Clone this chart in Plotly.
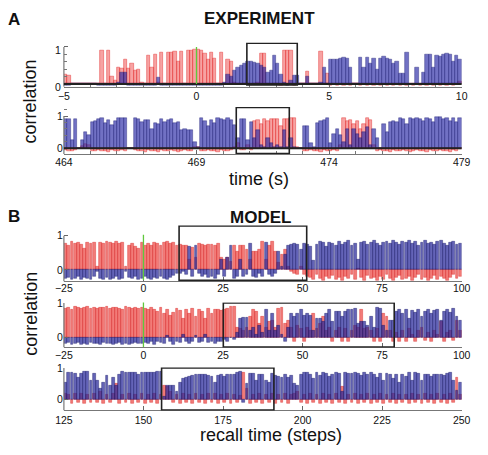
import plotly.graph_objects as go

W, H = 488, 455
FONT = "Liberation Sans, Arial, Helvetica, sans-serif"

# ---------------- data ----------------
EXP_BIN = 0.125          # s per bin (experiment)
a1_t0 = -5.0
a2_t0 = 464.0

a1_red = [0.25, 0.22, 0, 0, 0, 0, 0, 0, 0, 0,
          0, 0.9, 0, 0.9, 0.2, 0.1, 0.45, 0.42, 0.65, 0.42,
          0.55, 0.35, 0.38, 0.05, 0, 0.78, 0.45, 0.8, 0.05, 0.86,
          0, 0.86, 0.86, 0.87, 0.6, 0.88, 0, 0.9, 0.9, 0.92,
          0.92, 0.9, 0.82, 0.65, 0.86, 0.7, 0, 0.85, 0, 0.65,
          0.6, 0.05, 0.02, -0.02, 0.02, 0, -0.02, 0.02, 0.05, 0.83,
          0.83, 0, -0.02, 0.02, 0, -0.03, 0.9, 0.9, 0.9, -0.03,
          -0.02, 0, 0, 0.33, 0, 0, 0, 0.88, 0, 0.28,
          -0.03, -0.02, -0.03, -0.02, -0.03, -0.02, -0.03, 0, 0, -0.03,
          -0.02, -0.03, -0.02, -0.03, -0.02, -0.03, -0.02, -0.03, -0.02, -0.03,
          -0.02, -0.03, -0.02, -0.03, -0.02, -0.03, -0.02, -0.03, -0.02, -0.03,
          -0.02, -0.03, -0.02, -0.03, -0.02, -0.03, -0.02, -0.03, -0.02, 0.06]
a1_blue = [-0.03, -0.03, 0, 0, 0, 0, 0, 0, 0, 0,
           -0.03, -0.03, -0.04, -0.03, -0.05, -0.03, 0.05, 0.32, 0.3, -0.04,
           -0.03, -0.05, -0.04, -0.03, -0.05, -0.04, -0.03, -0.05, 0.17, -0.04,
           -0.05, -0.03, -0.04, -0.05, -0.03, -0.04, -0.03, -0.05, -0.04, -0.03,
           -0.04, -0.05, -0.03, -0.04, -0.05, -0.03, -0.04, -0.03, 0.05, 0.25,
           0.2, 0.35, 0.45, 0.5, 0.55, 0.6, 0.6, 0.58, 0.55, 0.5,
           0.45, 0.32, 0.35, 0.76, 0.55, 0.25, 0.05, -0.03, 0.1, 0.22,
           0.22, 0, 0, 0.2, 0, 0, 0, 0.05, 0.45, 0,
           0.66, 0.67, 0.67, 0.7, 0.72, 0.68, 0.45, 0, 0, 0.72,
           0.45, 0.72, 0.55, 0.68, 0.4, 0.7, 0.75, 0.7, 0.65, 0.55,
           0.6, 0.28, 0.28, 0.85, -0.02, -0.02, 0.45, -0.02, 0.3, 0.8,
           0.8, 0.45, 0.78, 0.75, 0.8, 0.82, 0.8, 0.6, 0.78, 0.65]

a2_red = [-0.05, -0.08, -0.1, -0.06, 0.0, 0.08, 0.12, 0.1, -0.08, -0.1,
          -0.06, -0.1, -0.08, -0.12, -0.06, -0.1, -0.08, -0.05, -0.1, 0.0,
          0.0, -0.06, -0.1, -0.08, -0.12, -0.06, -0.1, -0.08, -0.12, -0.06,
          -0.1, -0.08, -0.06, -0.1, -0.12, -0.08, -0.06, -0.1, -0.08, 0.05,
          0.03, -0.08, -0.1, -0.06, -0.1, -0.08, -0.12, -0.06, -0.1, -0.08,
          -0.06, 0.05, 0.15, -0.05, -0.06, 0.1, -0.05, 0.85, 0.88, 0.75,
          0.92, 0.85, 0.92, 0.92, 0.92, 0.7, 0.9, 0.92, 0.95, 0.95,
          0.05, 0.0, -0.08, -0.1, -0.06, -0.1, -0.08, -0.12, -0.06, -0.1,
          -0.08, -0.06, -0.1, 0.1, 0.95, 0.85, 0.88, 0.75, 0.85, 0.6,
          0.75, 0.95, 0.88, 0.1, -0.08, -0.06, -0.1, -0.08, -0.12, -0.06,
          -0.1, -0.08, -0.06, -0.1, -0.12, -0.08, -0.06, -0.1, -0.08, -0.12,
          -0.06, -0.1, -0.08, -0.06, -0.1, -0.08, -0.12, -0.06, -0.1, -0.04]
a2_blue = [0.92, 0.92, 0.25, 0.92, 0, 0.25, 0.5, 0.42, 0.82, 0.85,
           0.9, 0.95, 0.78, 0.88, 0.72, 0.85, 0.95, 0.95, 0.95, 0,
           0, 0.95, 0.9, 0.82, 0.88, 0.88, 0.6, 0.78, 0.75, 0.9,
           0.82, 0.86, 0.9, 0.78, 0.82, 0.55, 0.6, 0.55, 0.55, 0.2,
           0.05, 0.95, 0.85, 0.7, 0.88, 0.78, 0.95, 0.9, 0.88, 0.95,
           0.88, 0.72, 0.3, 0.92, 0.92, 0.25, 0.8, 0.3, 0.55, 0.1,
           0.05, 0.3, 0.15, 0.05, 0.1, 0.05, 0.55, 0.05, 0.3, 0.05,
           0, 0, 0.68, 0.68, 0.15, 0.05, 0.79, 0.85, 0.88, 0.95,
           0.15, 0.45, 0.6, 0.4, 0.2, 0.58, 0.1, 0.58, 0.45, 0.3,
           0.5, 0.65, 0.1, 0.6, 0.3, 0, 0.75, 0.5, 0.82, 0.85,
           0.8, 0.95, 0.9, 0.75, 0.95, 0.9, 0.95, 0.9, 0.85, 0.95,
           0.92, 0.8, 0.97, 0.97, 0.9, 0.95, 0.85, 0.95, 0.8, 0.95]

MODEL_STEP = 1
b1_s0 = -25
b2_s0 = -25
b3_s0 = 125

b1_red = [0.78, 0.72, 0.82, 0.76, 0.8, 0.74, 0.62, 0.8, 0.78, 0.8,
          0.1,
          0.8, 0.78, 0.82, 0.8, 0.78, 0.82, 0.76, 0.8,
          0.1,
          0.72, 0.78, 0.68, 0.62, 0.8,
          0.7, 0.78, 0.72, 0.8, 0.78, 0.72, 0.8, 0.82, 0.76, 0.8, 0.7,
          0.75, 0.72, 0.7, 0.3, 0.65, 0.35, 0.78, 0.75, 0.72, 0.74,
          0.75, 0.72, 0.78, 0.35, 0.3, 0.35, 0.25, 0.72, 0.55, 0.7,
          0.7, 0.6, 0.3, 0.55, 0.55, 0.6, 0.82, 0.3, 0.72, 0.82,
          0.55, 0.2, 0.45, 0.6, 0.1, -0.05, -0.1, -0.15, 0.1, -0.15, -0.2,
          -0.22, -0.28, -0.15, -0.25, -0.3, -0.2, -0.26, -0.18, -0.28, -0.24,
          -0.3, -0.2, -0.25, -0.15, -0.28, 0.05, -0.22, -0.3, -0.18, -0.26,
          -0.24, -0.3, -0.2, -0.28, -0.15, -0.25, -0.3, -0.22, -0.18, -0.28,
          -0.26, -0.2, -0.3, -0.24, -0.15, -0.28, -0.22, -0.3, -0.25, -0.18,
          -0.28, -0.2, -0.26, -0.3, -0.22, -0.15, -0.25, -0.2]
b1_blue = [-0.25, -0.22, -0.28, -0.25, -0.2, -0.27, -0.22, -0.25, -0.28, -0.2,
           -0.05,
           -0.25, -0.28, -0.22, -0.27, -0.25, -0.2, -0.28, -0.25,
           -0.05,
           -0.22, -0.26, -0.2, -0.28, -0.25,
           -0.2, -0.25, -0.28, -0.22, -0.26, -0.2, -0.25, -0.28, -0.22, -0.18, -0.1,
           -0.1, -0.05, -0.15, 0.69, -0.2, 0.72, -0.12, -0.2, -0.15, -0.22,
           -0.2, -0.25, -0.15, 0.3, -0.2, 0.35, 0.7, -0.25, -0.2, 0.3,
           -0.2, -0.15, 0.78, -0.2, -0.22, -0.1, -0.2, 0.8, -0.15, -0.2,
           -0.1, 0.55, 0.1, 0.45, 0.7, 0.75, 0.78, 0.75, 0.6, 0.78, 0.75,
           0.68, 0.28, 0.75, 0.82, 0.8, 0.68, 0.8, 0.78, 0.72, 0.82,
           0.75, 0.8, 0.85, 0.7, 0.78, 0.3, 0.8, 0.82, 0.75, 0.8,
           0.85, 0.78, 0.72, 0.8, 0.82, 0.78, 0.85, 0.8, 0.75, 0.82,
           0.8, 0.85, 0.78, 0.82, 0.72, 0.8, 0.85, 0.78, 0.8, 0.75,
           0.82, 0.85, 0.78, 0.7, 0.8, 0.82, 0.75, 0.78]

b2_red = [0.85, 0.88, 0.82, 0.9, 0.86, 0.84, 0.88, 0.9, 0.85, 0.87,
          0.83, 0.88, 0.86, 0.9, 0.84, 0.87, 0.88, 0.85, 0.82, 0.9,
          0.86, 0.84, 0.88, 0.85, 0.87,
          0.85, 0.82, 0.88, 0.8, 0.75, 0.86, 0.7, 0.82, 0.65, 0.72,
          0.85, 0.78, 0.55, 0.8, 0.68, 0.85, 0.6, 0.82, 0.75, 0.55,
          0.85, 0.7, 0.82, 0.8, 0.78,
          0.8, 0.85, 0.9, 0.9, 0.3, 0.25, 0.2, 0.3, 0.6, 0.82,
          0.75, 0.4, 0.6, 0.3, 0.45, 0.5, 0.3, 0.85, 0.88, 0.4,
          0.5, 0.3, -0.1, 0.35, 0.25, -0.12, 0.3, 0.2, 0.7, 0.25,
          0.4, 0.6, 0.2, 0.3, -0.1, 0.2, 0.3, -0.1, 0.25, -0.12,
          0.2, 0.35, 0.3, 0.8, 0.25, 0.3, 0.2, -0.1, 0.25, -0.12,
          0.7, 0.6, 0.2, -0.1,
          0.15, -0.1, 0.2, -0.12, 0.25, 0.1, -0.1, 0.2, 0.3, -0.08,
          0.15, -0.12, 0.2, 0.1, 0.45, -0.1, 0.15, 0.2, -0.08, 0.5, 0.2]
b2_blue = [-0.18, -0.15, -0.2, -0.17, -0.15, -0.19, -0.16, -0.2, -0.15, -0.18,
           -0.17, -0.2, -0.15, -0.18, -0.16, -0.2, -0.17, -0.15, -0.19, -0.18,
           -0.2, -0.16, -0.15, -0.18, -0.17,
           -0.15, -0.18, -0.12, -0.2, -0.1, -0.15, -0.18, 0.05, -0.12, -0.2,
           -0.1, -0.15, 0.1, -0.12, -0.18, -0.1, 0.05, -0.15, -0.12, 0.1,
           -0.15, -0.1, -0.18, -0.12, -0.1,
           -0.05, -0.1, 0.0, -0.05, 0.15, 0.55, 0.58, 0.58, 0.2, 0.3,
           0.1, 0.35, 0.15, 0.8, 0.2, 0.7, 0.2, 0.35, 0.1, -0.1,
           0.3, 0.7, 0.6, 0.7, 0.8, 0.65, 0.7, 0.65, 0.2, 0.55,
           0.55, 0.45, 0.7, 0.8, 0.45, 0.75, 0.75, 0.6, 0.75, 0.8,
           0.8, 0.85, 0.4, 0.45, 0.45, 0.35, 0.6, 0.3, 0.88, 0.85,
           0.35, 0.2, 0.5, 0.5,
           0.75, 0.8, 0.7, 0.82, 0.55, 0.78, 0.72, 0.8, 0.6, 0.75,
           0.82, 0.7, 0.78, 0.8, 0.5, 0.75, 0.82, 0.72, 0.85, 0.6, 0.5]

b3_red = [0.2, 0.15, -0.12, 0.18, -0.1, 0.2, -0.12, 0.15, -0.1, 0.2,
          -0.1, 0.25, -0.12, 0.15, -0.1, 0.18, 0.5, -0.12, 0.15, -0.1,
          0.2, -0.12, 0.15, -0.1, 0.18, -0.12, 0.15, -0.1, 0.2, -0.12, 0.15,
          0.45, 0.4, 0.25, -0.1, 0.15, -0.12, 0.18, -0.1, 0.15, -0.12,
          0.2, -0.1, 0.15, -0.12, 0.18, -0.1, 0.2, -0.12, 0.15, -0.1,
          0.18, -0.12, 0.15, -0.1, 0.12, 0.85,
          0.35, -0.12, 0.15, -0.1, 0.2, -0.12, 0.15, -0.1, 0.18, -0.12,
          0.15, -0.1, 0.2, -0.12, 0.15, 0.2, 0.25, -0.1, 0.15, -0.12,
          0.2, -0.1, 0.15, -0.12, 0.18, -0.1, 0.15, -0.12, 0.2, -0.1,
          0.4, -0.12, 0.15, -0.1, 0.18, -0.12, 0.15, -0.1, 0.2, -0.12,
          0.15, -0.1, 0.18, -0.12, 0.15, -0.1, 0.2, -0.12, 0.15, -0.1,
          0.15, -0.12, 0.2, -0.1, 0.15, -0.12, 0.18, -0.1, 0.15, -0.12,
          0.2, -0.1, 0.15, -0.12, 0.18, -0.1, 0.7, 0.15]
b3_blue = [0.53, 0.85, 0.85, 0.82, 0.7, 0.82, 0.88, 0.88, 0.6, 0.82,
           0.6, 0.35, 0.55, 0.75, 0.45, 0.7, 0.45, 0.8, 0.88, 0.85,
           0.85, 0.85, 0.85, 0.8, 0.85, 0.85, 0.85, 0.85, 0.85, 0.88, 0.88,
           0.1, 0.45, 0.45, 0.45, 0.25, 0.55, 0.65, 0.7, 0.72, 0.75,
           0.78, 0.8, 0.8, 0.78, 0.75, 0.72, 0.55, 0.75, 0.78, 0.72,
           0.8, 0.78, 0.8, 0.85, 0.88, -0.1,
           0.5, 0.82, 0.82, 0.6, 0.8, 0.78, 0.6, 0.55, 0.82, 0.75,
           0.72, 0.7, 0.8, 0.7, 0.75, 0.5, 0.45, 0.8, 0.85, 0.85,
           0.8, 0.65, 0.85, 0.75, 0.85, 0.82, 0.72, 0.8, 0.85, 0.82,
           0.25, 0.85, 0.82, 0.82, 0.85, 0.82, 0.75, 0.85, 0.8, 0.85,
           0.78, 0.7, 0.82, 0.6, 0.82, 0.8, 0.65, 0.8, 0.55, 0.78,
           0.72, 0.85, 0.6, 0.85, 0.82, 0.6, 0.78, 0.78, 0.72, 0.8,
           0.78, 0.8, 0.75, 0.82, 0.85, 0.6, 0.3, 0.55]

a1_xticks = [-5, 0, 5, 10]
a1_xlabels = ["\u22125", "0", "5", "10"]
a2_xticks = [464, 469, 474, 479]
a2_xlabels = ["464", "469", "474", "479"]
b_xticks = [-25, 0, 25, 50, 75, 100]
b_xlabels = ["\u221225", "0", "25", "50", "75", "100"]
b3_xticks = [125, 150, 175, 200, 225, 250]
b3_xlabels = ["125", "150", "175", "200", "225", "250"]
y_ticks = [0, 1]
y_labels = ["0", "1"]

# highlighted windows (x0, x1, y0, y1) in data units
a1_box = (1.9, 3.8, -0.03, 1.1)
a2_box = (470.5, 472.5, -0.17, 1.27)
b1_box = (11.2, 51.3, -0.31, 1.29)
b2_box = (25.1, 78.8, -0.27, 1.0)
b3_box = (155.7, 191.0, -0.33, 1.0)
onset = 0  # recall cue (green line)

# ---------------- layout geometry (pixels) ----------------
X_LEFT, X_RIGHT = 57, 470
EXP_STYLE = dict(red="rgba(240,70,70,0.5)", redl="rgba(225,35,35,0.85)",
                 blue="rgba(40,40,165,0.66)", bluel="rgba(25,25,110,0.75)")
MOD_STYLE = dict(red="rgba(236,55,50,0.66)", redl="rgba(215,35,35,0.8)",
                 blue="rgba(40,40,155,0.72)", bluel="rgba(22,22,100,0.8)")

panels = [
    dict(red=a1_red, blue=a1_blue, t0=a1_t0, dx=EXP_BIN, w=EXP_BIN,
         xr=[-5, 10], yr=[-0.08, 1.12], zero=80, ppu=38, stand=0, yshift=3, ystand=2,
         xt=a1_xticks, xl=a1_xlabels, xminor=1, yminor=0.2, box=a1_box,
         green=(0, 1), zline=True, st=EXP_STYLE),
    dict(red=a2_red, blue=a2_blue, t0=a2_t0, dx=EXP_BIN, w=EXP_BIN,
         xr=[464, 479], yr=[-0.18, 1.28], zero=146, ppu=33, stand=-2, yshift=0, ystand=0,
         xt=a2_xticks, xl=a2_xlabels, xminor=1, yminor=0.2, box=a2_box,
         green=None, zline=True, st=EXP_STYLE),
    dict(red=b1_red, blue=b1_blue, t0=b1_s0, dx=MODEL_STEP, w=0.9,
         xr=[-25, 100], yr=[-0.34, 1.3], zero=271, ppu=35, stand=-3, yshift=0, ystand=0,
         xt=b_xticks, xl=b_xlabels, xminor=None, yminor=None, box=b1_box,
         green=(-0.3, 1.03), zline=False, st=MOD_STYLE),
    dict(red=b2_red, blue=b2_blue, t0=b2_s0, dx=MODEL_STEP, w=0.9,
         xr=[-25, 100], yr=[-0.28, 1.01], zero=340.7, ppu=35.7, stand=-2, yshift=0, ystand=0,
         xt=b_xticks, xl=b_xlabels, xminor=None, yminor=None, box=b2_box,
         green=(-0.27, 1.03), zline=False, st=MOD_STYLE),
    dict(red=b3_red, blue=b3_blue, t0=b3_s0, dx=MODEL_STEP, w=0.9,
         xr=[125, 250], yr=[-0.34, 1.01], zero=404.3, ppu=32.6, stand=0, yshift=0, ystand=0,
         xt=b3_xticks, xl=b3_xlabels, xminor=None, yminor=None, box=b3_box,
         green=None, zline=False, st=MOD_STYLE),
]

fig = go.Figure()
shapes = []
layout = {}
tickfont = dict(family=FONT, size=10.5, color="#111")

for i, p in enumerate(panels, start=1):
    xa = "x" if i == 1 else f"x{i}"
    ya = "y" if i == 1 else f"y{i}"
    st = p["st"]
    for vals, fc, lc in ((p["red"], st["red"], st["redl"]),
                         (p["blue"], st["blue"], st["bluel"])):
        fig.add_trace(go.Bar(
            x0=p["t0"] + p["dx"] / 2, dx=p["dx"], y=vals, width=p["w"],
            marker=dict(color=fc, line=dict(color=lc, width=0.5)),
            xaxis=xa, yaxis=ya, hoverinfo="skip"))
    top_px = p["zero"] - p["yr"][1] * p["ppu"]
    bot_px = p["zero"] - p["yr"][0] * p["ppu"]
    xkey = "xaxis" if i == 1 else f"xaxis{i}"
    ykey = "yaxis" if i == 1 else f"yaxis{i}"
    xdict = dict(domain=[X_LEFT / W, X_RIGHT / W], range=p["xr"], anchor=ya,
                 tickvals=p["xt"], ticktext=p["xl"], ticks="inside", ticklen=4,
                 tickcolor="#666", showline=True, linecolor="#777", linewidth=1,
                 showgrid=False, zeroline=False, tickfont=tickfont,
                 ticklabelstandoff=p["stand"])
    if p["xminor"]:
        xdict["minor"] = dict(dtick=p["xminor"], tick0=p["xr"][0], ticks="inside",
                              ticklen=3, tickcolor="#777", showgrid=False)
    ydict = dict(domain=[1 - bot_px / H, 1 - top_px / H], range=p["yr"], anchor=xa,
                 tickvals=y_ticks, ticktext=y_labels, ticks="inside", ticklen=4,
                 tickcolor="#666", showline=False, showgrid=False, zeroline=False,
                 tickfont=tickfont, ticklabelshift=p["yshift"],
                 ticklabelstandoff=p["ystand"])
    if p["yminor"]:
        ydict["minor"] = dict(dtick=p["yminor"], tick0=0, ticks="inside",
                              ticklen=3, tickcolor="#777", showgrid=False)
    layout[xkey] = xdict
    layout[ykey] = ydict
    # left axis line from the bottom of the range up to 1
    shapes.append(dict(type="line", xref=f"{xa} domain", yref=ya, x0=0, x1=0,
                       y0=p["yr"][0], y1=1, line=dict(color="#777", width=1.2),
                       layer="above"))
    if p["zline"]:
        shapes.append(dict(type="line", xref=f"{xa} domain", yref=ya, x0=0, x1=1,
                           y0=0, y1=0, line=dict(color="#222", width=2), layer="above"))
    if p["green"]:
        shapes.append(dict(type="line", xref=xa, yref=ya, x0=onset, x1=onset,
                           y0=p["green"][0], y1=p["green"][1],
                           line=dict(color="rgb(95,200,60)", width=1.3), layer="above"))
    bx = p["box"]
    shapes.append(dict(type="rect", xref=xa, yref=ya, x0=bx[0], x1=bx[1],
                       y0=bx[2], y1=bx[3], line=dict(color="#222", width=1.6),
                       fillcolor="rgba(0,0,0,0)", layer="above"))


def txt(text, xpx, ypx, size, bold=False, angle=0):
    return dict(text=f"<b>{text}</b>" if bold else text, x=xpx / W, y=1 - ypx / H,
                xref="paper", yref="paper", showarrow=False, textangle=angle,
                xanchor="center", yanchor="middle",
                font=dict(family=FONT, size=size, color="#111"))


annotations = [
    txt("A", 5, 14, 17, bold=True),
    txt("EXPERIMENT", 260, 13, 17, bold=True),
    txt("correlation", 22, 98, 18, angle=-90),
    txt("time (s)", 260, 178, 18),
    txt("B", 5, 216, 17, bold=True),
    txt("MODEL", 261, 217, 17, bold=True),
    txt("correlation", 22, 316, 18, angle=-90),
    txt("recall time (steps)", 272, 441, 18),
]

fig.update_layout(width=W, height=H, margin=dict(l=0, r=0, t=0, b=0),
                  paper_bgcolor="white", plot_bgcolor="white",
                  barmode="overlay", bargap=0, showlegend=False,
                  shapes=shapes, annotations=annotations, **layout)

fig.write_html("out.html")
